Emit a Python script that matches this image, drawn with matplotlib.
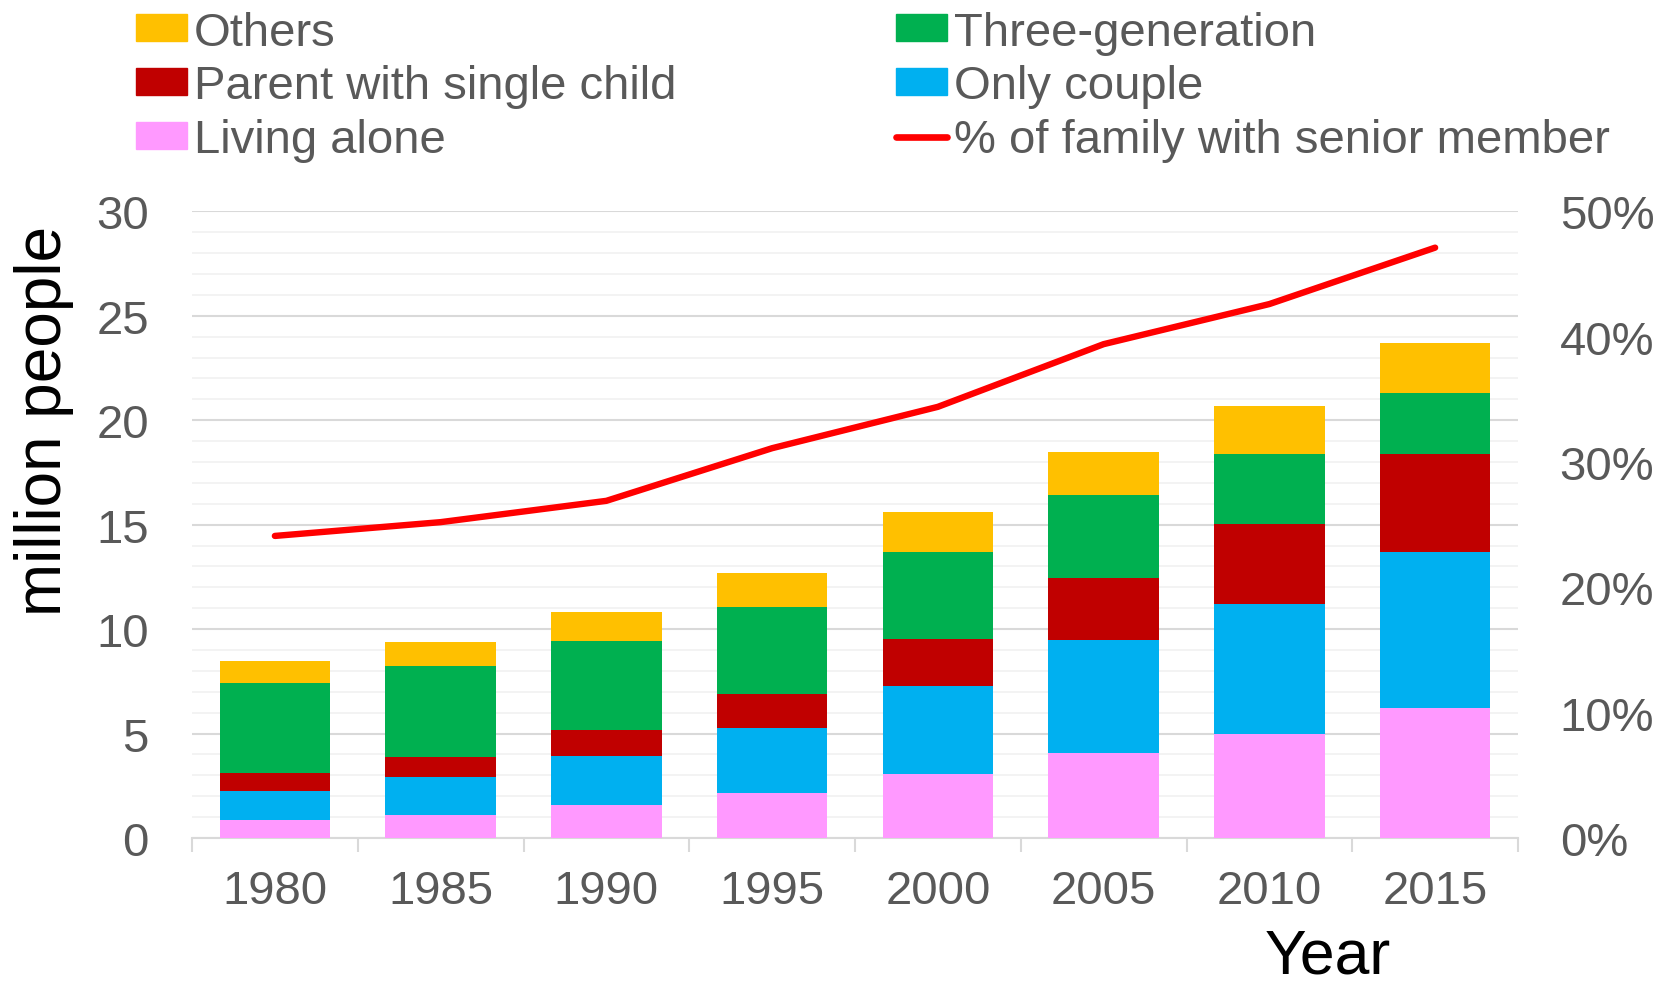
import matplotlib
matplotlib.use("Agg")
import matplotlib.pyplot as plt
from matplotlib.ticker import FixedLocator, FuncFormatter
from matplotlib.patches import Patch
from matplotlib.lines import Line2D

# ---- data ----
years = ["1980", "1985", "1990", "1995", "2000", "2005", "2010", "2015"]
living_alone = [0.88, 1.12, 1.60, 2.17, 3.04, 4.05, 4.98, 6.23]
only_couple = [1.39, 1.79, 2.31, 3.09, 4.26, 5.42, 6.20, 7.45]
parent_single = [0.86, 0.99, 1.26, 1.62, 2.25, 2.99, 3.83, 4.70]
three_gen = [4.28, 4.32, 4.25, 4.20, 4.12, 3.96, 3.35, 2.90]
others = [1.07, 1.15, 1.38, 1.59, 1.94, 2.08, 2.31, 2.42]
senior_pct = [24.1, 25.2, 26.9, 31.1, 34.4, 39.4, 42.6, 47.1]

series = [
    ("Living alone", living_alone, "#FF99FF"),
    ("Only couple", only_couple, "#00B0F0"),
    ("Parent with single child", parent_single, "#C00000"),
    ("Three-generation", three_gen, "#00B050"),
    ("Others", others, "#FFC000"),
]

plt.rcParams["font.family"] = ["Liberation Sans", "DejaVu Sans"]
GRAY = "#595959"

fig = plt.figure(figsize=(16.73, 9.87), dpi=100)
ax = fig.add_axes([192 / 1673, 1 - 839 / 987, (1518 - 192) / 1673, (839 - 212.3) / 987])

x = list(range(len(years)))
bottom = [0.0] * len(years)
for name, vals, col in series:
    ax.bar(x, vals, width=0.667, bottom=bottom, color=col, label=name, zorder=3, linewidth=0)
    bottom = [b + v for b, v in zip(bottom, vals)]

ax.set_xlim(-0.5, len(years) - 0.5)
ax.set_ylim(0, 30)
ax.set_axisbelow(True)
ax.yaxis.set_major_locator(FixedLocator([0, 5, 10, 15, 20, 25, 30]))
ax.yaxis.set_minor_locator(FixedLocator(list(range(0, 31))))
ax.grid(axis="y", which="minor", color="#F2F2F2", linewidth=1.3, zorder=0)
ax.grid(axis="y", which="major", color="#D9D9D9", linewidth=1.5, zorder=0)
ax.tick_params(axis="y", which="both", length=0, labelsize=34, labelcolor=GRAY, pad=31)

ax.set_xticks(x)
ax.set_xticklabels(years)
ax.xaxis.set_minor_locator(FixedLocator([i - 0.5 for i in range(len(years) + 1)]))
ax.tick_params(axis="x", which="major", length=0, labelsize=34, labelcolor=GRAY, pad=22)
ax.tick_params(axis="x", which="minor", length=10, width=1.5, color="#D9D9D9", direction="out")

for s in ["left", "right", "top"]:
    ax.spines[s].set_visible(False)
ax.spines["bottom"].set_color("#D9D9D9")
ax.spines["bottom"].set_linewidth(1.5)

ax2 = ax.twinx()
ax2.plot(x, senior_pct, color="#FF0000", linewidth=4.6, solid_capstyle="round",
         solid_joinstyle="round", zorder=5)
ax2.set_ylim(0, 50)
ax2.yaxis.set_major_locator(FixedLocator([0, 10, 20, 30, 40, 50]))
ax2.yaxis.set_major_formatter(FuncFormatter(lambda v, p: f"{v:.0f}%"))
ax2.tick_params(axis="y", length=0, labelsize=34, labelcolor=GRAY, pad=30)
for s in ["left", "right", "top", "bottom"]:
    ax2.spines[s].set_visible(False)

fig.text(44 / 1673, 1 - 421 / 987, "million people", rotation=90, fontsize=46,
         color="black", ha="center", va="center")
fig.text(1328 / 1673, 1 - 974 / 987, "Year", fontsize=45, color="black",
         ha="center", va="baseline")

handles = [
    Patch(color="#FFC000"),
    Patch(color="#C00000"),
    Patch(color="#FF99FF"),
    Patch(color="#00B050"),
    Patch(color="#00B0F0"),
    Line2D([0], [0], color="#FF0000", linewidth=4.8, solid_capstyle="round"),
]
labels = ["Others", "Parent with single child", "Living alone",
          "Three-generation", "Only couple", "% of family with senior member"]
leg = fig.legend(handles, labels, ncol=2, loc="upper left",
                 bbox_to_anchor=(136 / 1673, 1 - 11.5 / 987), frameon=False,
                 fontsize=34, handlelength=1.08, handleheight=0.5,
                 handletextpad=0.15, columnspacing=4.65, labelspacing=0.21,
                 borderpad=0, borderaxespad=0)
for t in leg.get_texts():
    t.set_color(GRAY)

fig.savefig("out.png", dpi=100)
